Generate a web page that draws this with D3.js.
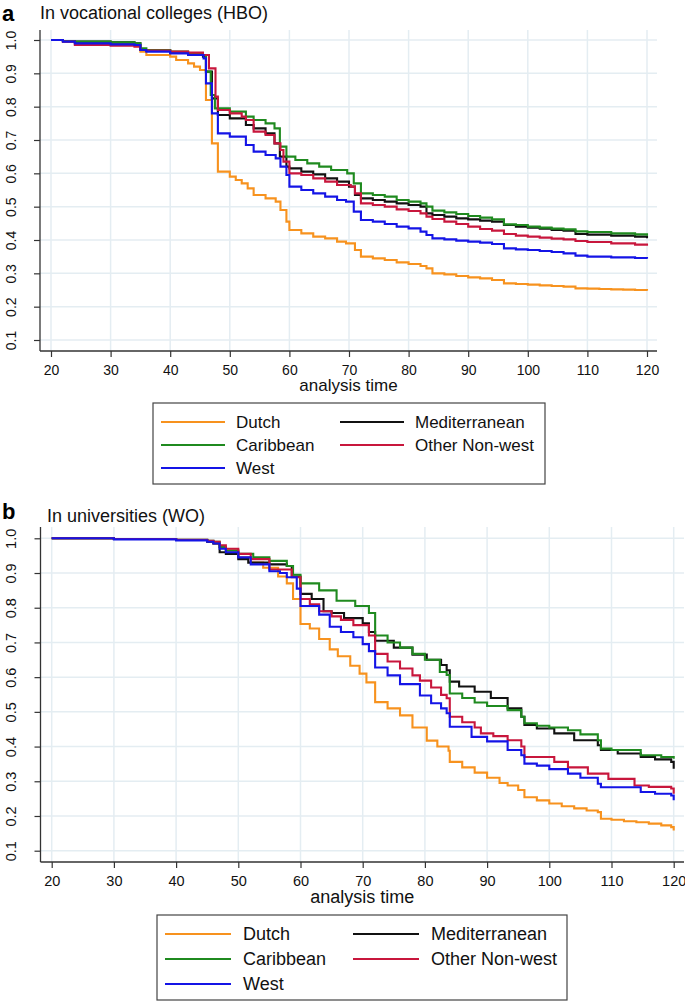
<!DOCTYPE html>
<html><head><meta charset="utf-8">
<script src="https://cdn.jsdelivr.net/npm/d3@7"></script>
<style>html,body{margin:0;padding:0;background:#fff;}svg{display:block;font-family:"Liberation Sans",Arial,sans-serif;}</style>
</head><body>
<svg id="chart" width="685" height="1001"></svg>
<script>
// ---- data ----
const seriesNames = ["Dutch","Mediterranean","Caribbean","Other Non-west","West"];
const seriesColors = ["#f7921e","#111111","#1f8a1f","#c8163c","#1414e6"];
const xTicks = [20,30,40,50,60,70,80,90,100,110,120];
const yTicks = [0.1,0.2,0.3,0.4,0.5,0.6,0.7,0.8,0.9,1.0];
const yTickLabels = ["0.1","0.2","0.3","0.4","0.5","0.6","0.7","0.8","0.9","1.0"];

// Panel a: vocational colleges (HBO) — [analysis time, survival]
const hboDutch = [[20,1.0],[22,0.995],[24,0.99],[30,0.988],[34,0.985],[35,0.965],[36,0.955],[40,0.95],[41,0.94],[43,0.93],[44,0.92],[45,0.91],[46,0.82],[47,0.69],[48,0.605],[50,0.59],[51,0.58],[52,0.57],[53,0.555],[54,0.535],[56,0.525],[57.7,0.515],[58.5,0.49],[59.5,0.455],[60,0.43],[62,0.42],[64,0.41],[66,0.405],[68,0.395],[69.5,0.39],[71,0.37],[72,0.35],[74,0.345],[76,0.34],[78,0.333],[80,0.328],[82,0.322],[83,0.315],[84,0.30],[86,0.297],[88,0.292],[90,0.288],[92,0.285],[94,0.28],[96,0.27],[98,0.268],[100,0.266],[102,0.264],[104,0.262],[106,0.26],[108,0.255],[110,0.254],[112,0.253],[114,0.252],[116,0.251],[118,0.25],[120,0.248]];
const hboMed = [[20,1.0],[22,0.997],[24,0.995],[30,0.993],[34,0.99],[35,0.97],[36,0.968],[40,0.962],[43,0.957],[45.5,0.95],[46,0.905],[47,0.825],[48,0.775],[50,0.765],[52.7,0.745],[54,0.735],[56,0.72],[57.5,0.69],[58.4,0.65],[59.5,0.62],[60,0.615],[62,0.605],[64,0.597],[66,0.585],[68,0.575],[70,0.56],[71,0.535],[72,0.525],[74,0.52],[76,0.515],[78,0.51],[80,0.505],[82,0.5],[83,0.48],[84,0.475],[86,0.47],[88,0.465],[90,0.462],[92,0.458],[94,0.455],[96,0.445],[98,0.44],[100,0.437],[102,0.434],[104,0.43],[106,0.428],[108,0.418],[110,0.416],[114,0.413],[118,0.41],[120,0.405]];
const hboCarib = [[20,1.0],[22,0.997],[24,0.995],[30,0.993],[34,0.99],[35,0.975],[36,0.97],[40,0.965],[43,0.96],[45.5,0.955],[46,0.905],[46.8,0.835],[47.5,0.795],[50,0.785],[52.7,0.77],[54,0.76],[56,0.75],[57.5,0.735],[58.4,0.68],[59.5,0.65],[61,0.64],[63,0.63],[65,0.62],[67,0.61],[69.7,0.6],[70.8,0.57],[72,0.54],[74,0.535],[76,0.53],[78,0.52],[80,0.515],[82,0.51],[83,0.5],[84,0.488],[86,0.483],[88,0.478],[90,0.472],[92,0.467],[94,0.462],[96,0.447],[98,0.445],[100,0.44],[102,0.437],[104,0.434],[106,0.432],[108,0.426],[110,0.424],[114,0.42],[118,0.417],[120,0.413]];
const hboOther = [[20,1.0],[22,0.995],[24,0.985],[30,0.983],[34,0.98],[35,0.97],[36,0.968],[40,0.965],[43,0.962],[45.5,0.955],[46.5,0.915],[47.6,0.83],[48,0.79],[50,0.78],[52,0.77],[52.7,0.76],[54,0.725],[56,0.715],[57.5,0.69],[58.5,0.67],[59,0.635],[60,0.6],[62,0.595],[64,0.585],[66,0.575],[68,0.565],[70.3,0.56],[71,0.54],[72,0.51],[74,0.505],[76,0.5],[78,0.492],[80,0.487],[82,0.48],[83,0.47],[84,0.463],[86,0.455],[88,0.448],[90,0.44],[92,0.433],[94,0.428],[96,0.418],[98,0.413],[100,0.41],[102,0.407],[104,0.404],[106,0.402],[108,0.397],[110,0.394],[114,0.39],[118,0.386],[120,0.383]];
const hboWest = [[20,1.0],[22,0.995],[24,0.99],[30,0.987],[34,0.985],[35,0.97],[36,0.965],[40,0.96],[43,0.955],[45.6,0.945],[46,0.87],[47,0.78],[48,0.72],[50,0.71],[52.7,0.685],[54,0.665],[56,0.655],[57.7,0.645],[58.5,0.62],[59.5,0.595],[60,0.56],[62,0.55],[64,0.54],[66,0.53],[68,0.52],[69.5,0.515],[70.8,0.485],[72,0.46],[74,0.455],[76,0.448],[78,0.44],[80,0.435],[82,0.425],[83,0.415],[84,0.405],[86,0.402],[88,0.398],[90,0.395],[92,0.392],[94,0.388],[96,0.375],[98,0.372],[100,0.37],[102,0.367],[104,0.364],[106,0.36],[108,0.353],[110,0.35],[114,0.348],[118,0.346],[120,0.344]];

// Panel b: universities (WO)
const woDutch = [[20,1.0],[30,0.998],[40,0.995],[45,0.99],[46,0.985],[47,0.975],[48,0.965],[50,0.945],[52,0.93],[54,0.915],[56.4,0.89],[57.8,0.87],[58.8,0.825],[60,0.753],[61.5,0.74],[63,0.71],[64.7,0.68],[66,0.66],[68,0.633],[69.5,0.61],[70.6,0.585],[72,0.528],[74,0.51],[76,0.49],[78,0.455],[80.3,0.417],[82,0.4],[83.8,0.388],[84,0.356],[86,0.34],[88,0.325],[90,0.31],[92,0.295],[93.3,0.288],[95,0.275],[96,0.254],[98,0.245],[100,0.236],[102,0.228],[104,0.222],[106,0.216],[107.8,0.211],[108.3,0.192],[110,0.189],[112,0.185],[114,0.182],[116,0.178],[118,0.173],[119.6,0.168],[120,0.158]];
const woMed = [[20,1.0],[30,0.998],[40,0.995],[45,0.99],[46,0.985],[47,0.96],[48,0.955],[50,0.94],[51.6,0.93],[55,0.925],[57.8,0.92],[58.6,0.89],[60,0.84],[61.8,0.825],[63.7,0.79],[65,0.785],[67,0.77],[70,0.755],[71,0.73],[72,0.705],[75,0.685],[78,0.665],[80.3,0.65],[82.6,0.635],[83.5,0.62],[84,0.587],[85.5,0.573],[88,0.558],[90.6,0.54],[93.3,0.51],[95.5,0.486],[96,0.462],[98,0.452],[100.8,0.438],[104,0.418],[107.8,0.404],[108.3,0.39],[111,0.38],[114.7,0.37],[117,0.363],[119.6,0.356],[120,0.336]];
const woCarib = [[20,1.0],[30,0.998],[40,0.996],[45,0.993],[46,0.99],[47,0.975],[48,0.965],[50,0.955],[52.4,0.945],[55,0.935],[57.8,0.92],[58.8,0.895],[60,0.87],[63,0.85],[65.8,0.82],[68.8,0.805],[71,0.785],[72,0.72],[74,0.7],[76,0.685],[78,0.667],[80,0.65],[82.4,0.615],[83.5,0.606],[84,0.553],[86,0.54],[88,0.527],[90,0.517],[93.3,0.505],[95.5,0.486],[96,0.467],[98,0.46],[100,0.455],[103,0.447],[105,0.435],[107.8,0.418],[108.3,0.394],[110,0.39],[114.7,0.375],[118,0.37],[120,0.365]];
const woOther = [[20,1.0],[30,0.998],[40,0.996],[45,0.993],[46,0.99],[47,0.98],[48,0.97],[50,0.955],[52,0.94],[55,0.91],[58.6,0.888],[60,0.825],[61.5,0.81],[63,0.79],[65,0.775],[66.5,0.765],[68.5,0.75],[71,0.72],[72,0.667],[74,0.645],[76,0.625],[78,0.605],[79.2,0.59],[81,0.57],[82.6,0.549],[83.5,0.539],[84,0.486],[86,0.47],[88,0.455],[89,0.438],[91,0.43],[93.3,0.418],[95.5,0.4],[96,0.37],[100.8,0.356],[103,0.34],[106.2,0.322],[109.5,0.307],[113.7,0.288],[116,0.284],[119.6,0.279],[120,0.264]];
const woWest = [[20,1.0],[30,0.997],[40,0.994],[45,0.99],[46,0.985],[47,0.97],[48,0.96],[50,0.945],[52,0.925],[55,0.905],[56.7,0.9],[57.8,0.888],[59.4,0.855],[60,0.805],[63,0.78],[64.7,0.745],[66.5,0.73],[68.5,0.715],[70,0.695],[71,0.675],[72,0.628],[74,0.605],[76,0.58],[79.2,0.547],[81,0.525],[82.6,0.51],[83.5,0.496],[84,0.457],[87.5,0.428],[90,0.415],[93.3,0.39],[95.5,0.375],[96,0.351],[98,0.345],[100,0.335],[103,0.322],[105,0.31],[107.8,0.293],[108.3,0.283],[114.7,0.269],[117,0.264],[119.6,0.259],[120,0.245]];

// ---- drawing ----
const svg = d3.select("#chart");

function drawPanel(o) {
  const g = svg.append("g");
  const x = d3.scaleLinear().domain([20,120]).range([o.x20, o.x120]);
  const y = d3.scaleLinear().domain([0.1,1.0]).range([o.y01, o.y10]);
  // gridlines
  g.append("g").selectAll("line.v").data(xTicks).join("line")
    .attr("x1", d=>x(d)).attr("x2", d=>x(d)).attr("y1", o.top).attr("y2", o.axisY)
    .attr("stroke","#e4edf2").attr("stroke-width",1.5);
  g.append("g").selectAll("line.h").data(yTicks).join("line")
    .attr("x1", o.axisX).attr("x2", o.right).attr("y1", d=>y(d)).attr("y2", d=>y(d))
    .attr("stroke","#e4edf2").attr("stroke-width",1.5);
  // axes
  const ax = d3.axisBottom(x).tickValues(xTicks).tickSize(6).tickPadding(5).tickFormat(d3.format("d"));
  const gx = g.append("g").attr("transform",`translate(0,${o.axisY})`).call(ax);
  gx.select(".domain").attr("d",`M${o.axisX},0H${o.right}`).attr("stroke","#333").attr("stroke-width",1.3);
  gx.selectAll(".tick line").attr("stroke","#333").attr("stroke-width",1.2);
  gx.selectAll(".tick text").attr("font-size",o.tickFont).attr("fill","#111")
    .attr("font-family","Liberation Sans, Arial, sans-serif").attr("dy", o.xLabDy);
  const ay = d3.axisLeft(y).tickValues(yTicks).tickSize(6).tickFormat((d,i)=>yTickLabels[i]);
  const gy = g.append("g").attr("transform",`translate(${o.axisX},0)`).call(ay);
  gy.select(".domain").attr("d",`M0,${o.top}V${o.axisY}`).attr("stroke","#333").attr("stroke-width",1.3);
  gy.selectAll(".tick line").attr("stroke","#333").attr("stroke-width",1.2);
  gy.selectAll(".tick text").attr("font-size",o.tickFont).attr("fill","#111")
    .attr("font-family","Liberation Sans, Arial, sans-serif")
    .attr("x",null).attr("dy",null)
    .attr("text-anchor","middle")
    .attr("transform",`translate(${o.yLabX - o.axisX},0) rotate(-90)`)
    .attr("dy","0.35em");
  // curves
  const line = d3.line().x(d=>x(d[0])).y(d=>y(d[1])).curve(d3.curveStepAfter);
  o.series.forEach((s,i)=>{
    g.append("path").datum(s).attr("d",line).attr("fill","none")
      .attr("stroke",seriesColors[i]).attr("stroke-width",2.1).attr("stroke-linejoin","miter");
  });
  // x title
  g.append("text").attr("x",(o.axisX+o.right)/2).attr("y",o.xTitleY).attr("text-anchor","middle")
    .attr("font-size",o.xTitleFont).attr("fill","#111").text("analysis time");
  // panel letter & title
  g.append("text").attr("x",2).attr("y",o.letterY).attr("font-size",22).attr("font-weight","bold")
    .attr("fill","#000").text(o.letter);
  g.append("text").attr("x",o.titleX).attr("y",o.titleY).attr("font-size",18).attr("fill","#111").text(o.title);
  // legend
  const L = o.legend;
  g.append("rect").attr("x",L.x).attr("y",L.y).attr("width",L.w).attr("height",L.h)
    .attr("fill","#fff").attr("stroke","#444").attr("stroke-width",1.2);
  seriesNames.forEach((nm,i)=>{
    const col = i%2, row = Math.floor(i/2);
    const lx = col===0 ? L.c1 : L.c2;
    const ly = L.rows[row];
    g.append("line").attr("x1",lx).attr("x2",lx+L.lineLen).attr("y1",ly).attr("y2",ly)
      .attr("stroke",seriesColors[i]).attr("stroke-width",2);
    g.append("text").attr("x",lx+L.lineLen+L.gap).attr("y",ly).attr("dy","0.35em")
      .attr("font-size",L.font).attr("fill","#111").text(nm);
  });
}

drawPanel({
  letter:"a", letterY:21, title:"In vocational colleges (HBO)", titleX:40, titleY:19,
  x20:51, x120:647, y01:340, y10:40, top:30, axisY:351, axisX:40, right:657,
  tickFont:14, xLabDy:"0.9em", yLabX:11, xTitleY:391, xTitleFont:17,
  series:[hboDutch,hboMed,hboCarib,hboOther,hboWest],
  legend:{x:153,y:403,w:392,h:81,c1:161,c2:340,lineLen:64,gap:11,rows:[422,445,468],font:17}
});
drawPanel({
  letter:"b", letterY:519, title:"In universities (WO)", titleX:47, titleY:521.5,
  x20:51.7, x120:673.7, y01:850.7, y10:538.3, top:527, axisY:862, axisX:40.5, right:684,
  tickFont:14.5, xLabDy:"0.9em", yLabX:11, xTitleY:903, xTitleFont:18,
  series:[woDutch,woMed,woCarib,woOther,woWest],
  legend:{x:157,y:915,w:410,h:85,c1:165,c2:353,lineLen:66,gap:12,rows:[934,959,984],font:18}
});
</script>
</body></html>
